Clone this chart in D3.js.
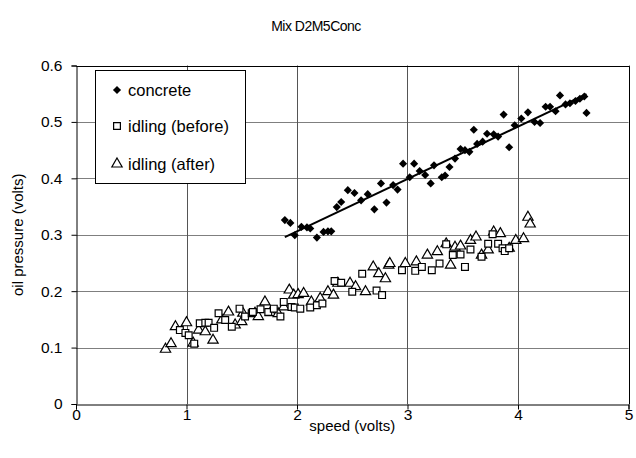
<!DOCTYPE html>
<html>
<head>
<meta charset="utf-8">
<script src="https://d3js.org/d3.v7.min.js"></script>
<style>
    body { margin: 0; background: #fff; }
    svg text { font-family: "Liberation Sans", Arial, sans-serif; fill: #000; }
</style>
</head>
<body>
<div id="chart"></div>
<script>
//
// D3 scatter chart - Mix D2M5Conc
//

var chartTitle = 'Mix D2M5Conc';
var xLabel = 'speed (volts)';
var yLabel = 'oil pressure (volts)';
var xTicks = [0, 1, 2, 3, 4, 5];
var yTicks = [0, 0.1, 0.2, 0.3, 0.4, 0.5, 0.6];
var seriesNames = ['concrete', 'idling (before)', 'idling (after)'];

// concrete (speed, pressure)
var concreteX = [1.89, 1.94, 1.98, 2.04, 2.09, 2.12, 2.18, 2.24, 2.28, 2.31, 2.36, 2.40, 2.46, 2.52, 2.58, 2.64,
    2.70, 2.76, 2.81, 2.87, 2.91, 2.96, 3.02, 3.06, 3.11, 3.16, 3.21, 3.24, 3.31, 3.34, 3.38, 3.43, 3.48, 3.52,
    3.56, 3.60, 3.63, 3.68, 3.72, 3.78, 3.82, 3.87, 3.92, 3.97, 4.03, 4.09, 4.15, 4.20, 4.25, 4.29, 4.34, 4.38,
    4.43, 4.47, 4.52, 4.56, 4.60, 4.62];
var concreteY = [0.326, 0.321, 0.299, 0.314, 0.313, 0.311, 0.295, 0.305, 0.306, 0.306, 0.349, 0.358, 0.379, 0.374, 0.361, 0.372,
    0.345, 0.391, 0.357, 0.388, 0.380, 0.426, 0.402, 0.426, 0.413, 0.406, 0.391, 0.423, 0.402, 0.405, 0.420, 0.435, 0.452, 0.450,
    0.447, 0.486, 0.461, 0.465, 0.479, 0.478, 0.474, 0.513, 0.455, 0.494, 0.506, 0.517, 0.500, 0.498, 0.527, 0.527, 0.519, 0.547,
    0.531, 0.533, 0.537, 0.541, 0.545, 0.516];

// idling (before)
var beforeX = [0.94, 0.99, 1.02, 1.07, 1.12, 1.17, 1.20, 1.25, 1.29, 1.35, 1.41, 1.48, 1.53, 1.59, 1.60, 1.67,
    1.74, 1.79, 1.85, 1.88, 1.95, 1.98, 2.03, 2.12, 2.18, 2.23, 2.34, 2.40, 2.50, 2.59, 2.72, 2.77,
    2.95, 3.07, 3.13, 3.22, 3.29, 3.35, 3.41, 3.48, 3.52, 3.57, 3.67, 3.73, 3.77, 3.82, 3.86, 3.88, 3.92];
var beforeY = [0.131, 0.126, 0.122, 0.107, 0.143, 0.144, 0.144, 0.135, 0.161, 0.149, 0.137, 0.169, 0.155, 0.161, 0.163, 0.168,
    0.163, 0.169, 0.155, 0.181, 0.172, 0.171, 0.169, 0.171, 0.175, 0.178, 0.218, 0.215, 0.199, 0.231, 0.201, 0.193,
    0.237, 0.236, 0.243, 0.237, 0.249, 0.283, 0.264, 0.265, 0.243, 0.274, 0.261, 0.284, 0.301, 0.284, 0.276, 0.271, 0.276];

// idling (after)
var afterX = [0.81, 0.86, 0.90, 1.00, 1.06, 1.11, 1.17, 1.24, 1.32, 1.38, 1.44, 1.50, 1.51, 1.62, 1.65, 1.71,
    1.76, 1.83, 1.88, 1.93, 1.97, 2.01, 2.06, 2.13, 2.21, 2.28, 2.33, 2.37, 2.48, 2.53, 2.62, 2.69, 2.74,
    2.80, 2.83, 2.84, 2.98, 3.08, 3.18, 3.27, 3.35, 3.39, 3.43, 3.48, 3.57, 3.62, 3.67, 3.73, 3.78, 3.84,
    3.92, 3.98, 4.05, 4.09, 4.11];
var afterY = [0.097, 0.107, 0.137, 0.144, 0.108, 0.131, 0.128, 0.113, 0.149, 0.163, 0.140, 0.146, 0.161, 0.161, 0.155, 0.181,
    0.162, 0.160, 0.172, 0.202, 0.193, 0.194, 0.196, 0.181, 0.187, 0.199, 0.193, 0.214, 0.214, 0.208, 0.199, 0.243, 0.231,
    0.222, 0.246, 0.249, 0.249, 0.252, 0.264, 0.270, 0.284, 0.246, 0.278, 0.280, 0.290, 0.296, 0.264, 0.273, 0.305, 0.302,
    0.276, 0.290, 0.293, 0.331, 0.319];

function zipXY(xs, ys) {
    var arr = [];
    for (i = 0; i < xs.length; i++) {
        arr.push({ X: xs[i], Y: ys[i] });
    }
    return arr;
}

// linear trendline (least squares) for concrete series
function linearFit(data) {
    var n = data.length;
    var sx = 0, sy = 0, sxx = 0, sxy = 0;
    data.forEach(function (d) { sx += d.X; sy += d.Y; sxx += d.X * d.X; sxy += d.X * d.Y; });
    var slope = (n * sxy - sx * sy) / (n * sxx - sx * sx);
    var intercept = (sy - slope * sx) / n;
    return { slope: slope, intercept: intercept };
}

function drawChart(divName, width, height) {
    var marginTop = 65.5;
    var marginLeft = 76;
    var marginRight = 7.5;
    var marginBottom = 54;

    var svg = d3.select("#" + divName)
        .append("svg")
        .attr("width", width)
        .attr("height", height);

    var x = d3.scaleLinear().domain([0, 5]).range([marginLeft, width - marginRight]);
    var y = d3.scaleLinear().domain([0, 0.6]).range([height - marginBottom, marginTop]);

    // title
    svg.append("text")
        .attr("x", 316)
        .attr("y", 31)
        .style("text-anchor", "middle")
        .style("font-size", "14px")
        .style("letter-spacing", "-0.5px")
        .text(chartTitle);

    // grid
    var grid = svg.append("g").attr("class", "grid");
    grid.selectAll("line.h")
        .data(yTicks.slice(1))
        .enter()
        .append("line")
        .attr("x1", x(0)).attr("x2", x(5))
        .attr("y1", function (d) { return Math.round(y(d)) + 0.5; })
        .attr("y2", function (d) { return Math.round(y(d)) + 0.5; })
        .attr("stroke", "#7f7f7f")
        .attr("stroke-width", 1);
    grid.selectAll("line.v")
        .data(xTicks.slice(1))
        .enter()
        .append("line")
        .attr("x1", function (d) { return Math.round(x(d)) + 0.5; })
        .attr("x2", function (d) { return Math.round(x(d)) + 0.5; })
        .attr("y1", y(0)).attr("y2", y(0.6))
        .attr("stroke", "#555")
        .attr("stroke-width", 1);

    // axes
    var xAxis = d3.axisBottom(x).tickValues(xTicks).tickSizeOuter(0).tickSize(5).tickFormat(d3.format("d"));
    svg.append("g")
        .attr("class", "x axis")
        .attr("transform", "translate(0," + (Math.round(y(0)) + 0.5) + ")")
        .call(xAxis);

    var yAxis = d3.axisLeft(y).tickValues(yTicks).tickSizeOuter(0).tickSize(5)
        .tickFormat(function (d) { return d == 0 ? "0" : d3.format(".1f")(d); });
    svg.append("g")
        .attr("class", "y axis")
        .attr("transform", "translate(" + (Math.round(x(0)) + 0.5) + ",0)")
        .call(yAxis);

    svg.selectAll(".axis path, .axis line").attr("stroke", "#000");
    svg.selectAll(".axis text").style("font-size", "15.5px").style("font-family", "'Liberation Sans', Arial, sans-serif");
    svg.selectAll(".x.axis text").attr("y", 4).attr("dy", "0.75em");
    svg.selectAll(".y.axis text").attr("x", -14);

    // frame (top and right)
    svg.append("path")
        .attr("d", "M" + (Math.round(x(0)) + 0.5) + "," + (Math.round(y(0.6)) + 0.5) +
            "H" + (Math.round(x(5)) + 0.5) + "V" + (Math.round(y(0)) + 0.5))
        .attr("fill", "none")
        .attr("stroke", "#000");

    // axis titles
    svg.append("text")
        .attr("x", (x(0) + x(5)) / 2)
        .attr("y", 431)
        .style("text-anchor", "middle")
        .style("font-size", "15px")
        .text(xLabel);

    svg.append("text")
        .attr("transform", "rotate(-90)")
        .attr("x", -(y(0) + y(0.6)) / 2)
        .attr("y", 23)
        .style("text-anchor", "middle")
        .style("font-size", "15px")
        .text(yLabel);

    var concrete = zipXY(concreteX, concreteY);
    var before = zipXY(beforeX, beforeY);
    var after = zipXY(afterX, afterY);

    var diamond = d3.symbol().type(d3.symbolDiamond2).size(42);
    var square = d3.symbol().type(d3.symbolSquare).size(46);
    var triangle = d3.symbol().type(d3.symbolTriangle).size(46);

    // idling (after) - triangles
    svg.append("g")
        .selectAll("path")
        .data(after)
        .enter()
        .append("path")
        .attr("d", triangle)
        .attr("transform", function (d) { return "translate(" + x(d.X) + "," + y(d.Y) + ")"; })
        .attr("fill", "#fff")
        .attr("stroke", "#000")
        .attr("stroke-width", 1.2);

    // idling (before) - squares
    svg.append("g")
        .selectAll("path")
        .data(before)
        .enter()
        .append("path")
        .attr("d", square)
        .attr("transform", function (d) { return "translate(" + x(d.X) + "," + y(d.Y) + ")"; })
        .attr("fill", "#fff")
        .attr("stroke", "#000")
        .attr("stroke-width", 1.2);

    // concrete - diamonds
    svg.append("g")
        .selectAll("path")
        .data(concrete)
        .enter()
        .append("path")
        .attr("d", diamond)
        .attr("transform", function (d) { return "translate(" + x(d.X) + "," + y(d.Y) + ")"; })
        .attr("fill", "#000");

    // trendline
    var fit = linearFit(concrete);
    var x0 = d3.min(concreteX), x1 = d3.max(concreteX);
    svg.append("line")
        .attr("x1", x(x0)).attr("y1", y(fit.intercept + fit.slope * x0))
        .attr("x2", x(x1)).attr("y2", y(fit.intercept + fit.slope * x1))
        .attr("stroke", "#000")
        .attr("stroke-width", 2);

    // legend
    var legend = svg.append("g").attr("class", "legend");
    legend.append("rect")
        .attr("x", 95.5).attr("y", 70.5)
        .attr("width", 150).attr("height", 113)
        .attr("fill", "#fff")
        .attr("stroke", "#000");

    var legendSymbols = [diamond, square, triangle];
    var legendY = [90, 126, 164];
    seriesNames.forEach(function (name, idx) {
        legend.append("path")
            .attr("d", legendSymbols[idx])
            .attr("transform", "translate(117," + legendY[idx] + ")")
            .attr("fill", idx == 0 ? "#000" : "#fff")
            .attr("stroke", "#000")
            .attr("stroke-width", idx == 0 ? 0 : 1.2);
        legend.append("text")
            .attr("x", 128)
            .attr("y", legendY[idx])
            .attr("dy", "0.35em")
            .style("font-size", "16.5px")
            .text(name);
    });

    return svg;
}

drawChart("chart", 636, 458);
</script>
</body>
</html>
